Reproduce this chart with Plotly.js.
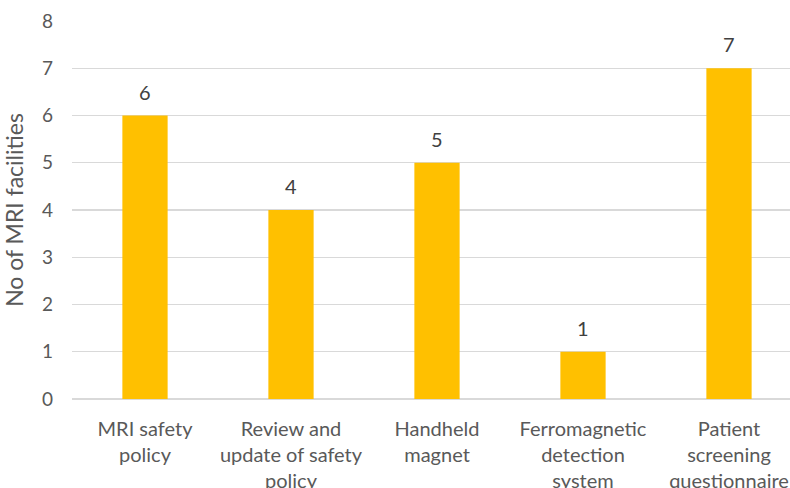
<!DOCTYPE html>
<html><head><meta charset="utf-8">
<script src="https://cdn.plot.ly/plotly-3.0.1.min.js"></script>
<style>html,body{margin:0;padding:0;overflow:hidden;background:#fff}</style>
</head><body>
<div id="chart" style="width:812px;height:488px"></div>
<script>
const categories = ["MRI safety<br>policy", "Review and<br>update of safety<br>policy", "Handheld<br>magnet", "Ferromagnetic<br>detection<br>system", "Patient<br>screening<br>questionnaire"];
const values = [6, 4, 5, 1, 7];
const yTicks = [0, 1, 2, 3, 4, 5, 6, 7, 8];
const FONT = "Lato, 'Open Sans', sans-serif";
Plotly.newPlot("chart", [{
  type: "bar",
  x: categories,
  y: values,
  marker: {color: "#FFC000"},
  hoverinfo: "none"
}], {
  width: 812, height: 488,
  margin: {l: 72, r: 10, t: 21, b: 89},
  bargap: 0.69,
  paper_bgcolor: "#fff", plot_bgcolor: "#fff",
  font: {family: FONT, size: 19, color: "#595959"},
  annotations: categories.map((c, i) => ({
    x: c, y: values[i], xref: "x", yref: "y",
    text: String(values[i]), showarrow: false,
    yanchor: "bottom", yshift: 10,
    font: {family: FONT, size: 20, color: "#404040"}
  })),
  xaxis: {
    showgrid: false, showline: false, zeroline: false, ticks: "",
    ticklabelstandoff: 16,
    tickfont: {family: FONT, size: 20, color: "#595959"},
    automargin: false
  },
  yaxis: {
    range: [0, 8], tickvals: yTicks, ticktext: yTicks.map(String),
    showgrid: true, gridcolor: "#D9D9D9", gridwidth: 1.3,
    zeroline: true, zerolinecolor: "#D9D9D9", zerolinewidth: 1.3,
    showline: false, ticks: "", ticklabelstandoff: 18,
    tickfont: {family: FONT, size: 19, color: "#595959"},
    title: {text: "No of MRI facilities", font: {family: FONT, size: 23, color: "#595959"}, standoff: 12},
    automargin: false
  },
  showlegend: false
}, {displayModeBar: false, staticPlot: true});
</script>
</body></html>
